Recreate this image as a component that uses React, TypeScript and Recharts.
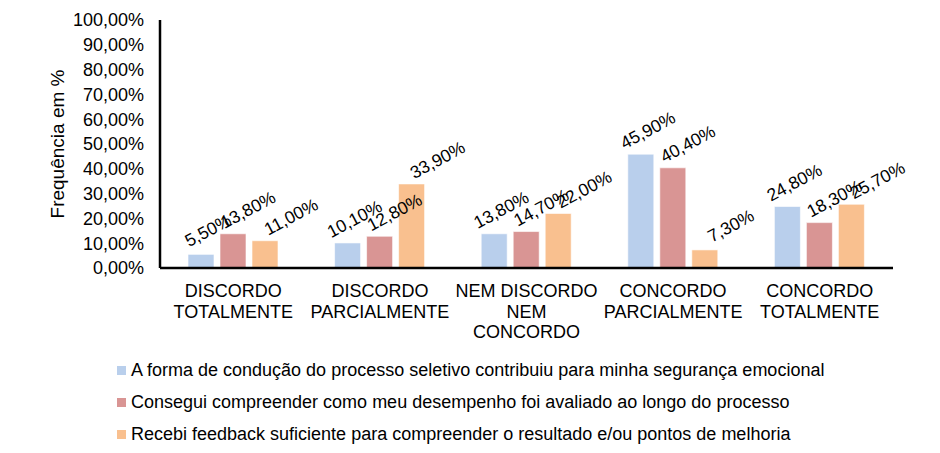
import { BarChart, Bar, XAxis, YAxis, Legend, LabelList } from "recharts";

const categories = [
  "DISCORDO\nTOTALMENTE",
  "DISCORDO\nPARCIALMENTE",
  "NEM DISCORDO\nNEM\nCONCORDO",
  "CONCORDO\nPARCIALMENTE",
  "CONCORDO\nTOTALMENTE",
];

const seriesNames = [
  "A forma de condução do processo seletivo contribuiu para minha segurança emocional",
  "Consegui compreender como meu desempenho foi avaliado ao longo do processo",
  "Recebi feedback suficiente para compreender o resultado e/ou pontos de melhoria",
];

const seguranca = [5.5, 10.1, 13.8, 45.9, 24.8];
const desempenho = [13.8, 12.8, 14.7, 40.4, 18.3];
const feedback = [11.0, 33.9, 22.0, 7.3, 25.7];

const yTicks = [0, 10, 20, 30, 40, 50, 60, 70, 80, 90, 100];

const colors = ["#B9CFEC", "#D99594", "#F9C08F"];
// label nudge per series, like Excel spreads them
const labelShift = [7, 15, 26];

const data = categories.map((c, i) => ({
  cat: c,
  s1: seguranca[i],
  s2: desempenho[i],
  s3: feedback[i],
}));

const pct = (v: number) => v.toFixed(2).replace(".", ",") + "%";
const FONT = "'Liberation Sans', Arial, sans-serif";

function CatTick(props: any) {
  const { x, y, payload } = props;
  const lines = String(payload.value).split("\n");
  return (
    <text x={x} y={y + 27} textAnchor="middle" fontSize={18} fill="#000" fontFamily={FONT}>
      {lines.map((l, i) => (
        <tspan key={i} x={x} dy={i === 0 ? 0 : 20.5}>
          {l}
        </tspan>
      ))}
    </text>
  );
}

function BarLabel(props: any) {
  const { x, y, width, value, shift } = props;
  const cx = x + width / 2 + shift;
  const cy = y - 24;
  return (
    <text
      x={cx}
      y={cy}
      textAnchor="middle"
      dominantBaseline="central"
      fontSize={17.5}
      fontFamily={FONT}
      fill="#000"
      transform={`rotate(-28, ${cx}, ${cy})`}
    >
      {pct(value)}
    </text>
  );
}

function LegendBox() {
  return (
    <div style={{ fontFamily: FONT, fontSize: 18, color: "#000" }}>
      {seriesNames.map((n, i) => (
        <div key={n} style={{ display: "flex", alignItems: "center", height: 32 }}>
          <span style={{ width: 9, height: 9, background: colors[i], marginRight: 5, display: "inline-block" }} />
          <span>{n}</span>
        </div>
      ))}
    </div>
  );
}

export default function App() {
  return (
    <div style={{ position: "absolute", left: 0, top: 0, width: 940, height: 453, background: "#fff" }}>
      <BarChart
        width={940}
        height={453}
        data={data}
        margin={{ top: 20, right: 47, bottom: 155, left: 60 }}
        barCategoryGap="19%"
        barGap={6}
      >
        <XAxis
          dataKey="cat"
          tick={<CatTick />}
          tickLine={false}
          tickSize={0}
          axisLine={{ stroke: "#000", strokeWidth: 2.5 }}
          interval={0}
        />
        <YAxis
          width={100}
          domain={[0, 100]}
          ticks={yTicks}
          interval={0}
          tickFormatter={pct}
          tickLine={false}
          tickSize={0}
          tickMargin={16}
          axisLine={{ stroke: "#000", strokeWidth: 2.5 }}
          tick={{ fill: "#000", fontSize: 18, fontFamily: FONT }}
          label={{
            value: "Frequência em %",
            angle: -90,
            position: "insideLeft",
            offset: -3,
            style: { fill: "#000", fontSize: 19, fontFamily: FONT, textAnchor: "middle" },
          }}
        />
        <Legend
          layout="vertical"
          align="center"
          verticalAlign="middle"
          wrapperStyle={{ top: 354, left: 117, width: 780 }}
          content={<LegendBox />}
        />
        {(["s1", "s2", "s3"] as const).map((k, i) => (
          <Bar
            key={k}
            dataKey={k}
            name={seriesNames[i]}
            fill={colors[i]}
            stroke="#fff"
            strokeOpacity={0.6}
            strokeWidth={1}
            barSize={26}
            isAnimationActive={false}
          >
            <LabelList dataKey={k} content={<BarLabel shift={labelShift[i]} />} />
          </Bar>
        ))}
      </BarChart>
    </div>
  );
}
